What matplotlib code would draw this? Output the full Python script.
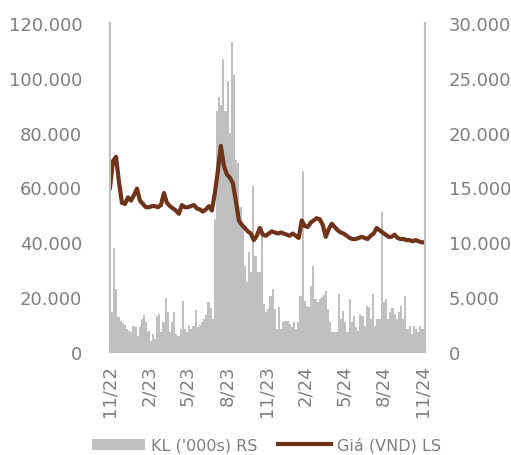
import pandas as pd
import matplotlib
matplotlib.use("Agg")
import matplotlib.pyplot as plt
from matplotlib.ticker import FuncFormatter

# Khối lượng giao dịch ('000s), mỗi điểm ~5 ngày
vol = [14.7, 14.7, 38, 23, 12.8, 11.4, 10.5, 9.9, 8.4, 7.8,
       7.3, 9.6, 9.1, 6, 9, 12, 13.5, 11, 7.8, 4,
       6.6, 4.7, 13, 13.9, 7.3, 11, 19.6, 14.7, 7.3, 11,
       14.7, 6.6, 6, 8.4, 18.5, 8.4, 7.3, 9.9, 8.4, 9.6,
       15.4, 9.1, 9.9, 11, 12, 13.5, 18.4, 16, 12, 48.5,
       88, 93, 90, 107, 88, 99, 80, 113, 101, 70,
       69, 53, 46, 31.5, 25.4, 36.4, 29, 60.7, 35, 29,
       29, 46, 17.5, 14.5, 15.7, 20.5, 23, 15.7, 8.4, 16.3,
       8.4, 10.8, 11.4, 11.4, 10.2, 9, 11, 8.4, 10.8, 20.5,
       66, 18.7, 16.9, 16.3, 24.2, 31.5, 19.3, 18.1, 19.3, 20,
       20.8, 22.4, 15.7, 10.8, 7.2, 7.2, 7.3, 21, 12, 15,
       10.8, 7.2, 19.3, 10.8, 13.2, 9, 7.8, 13.9, 13.2, 9.6,
       16.9, 16.3, 12, 21, 9.6, 12, 12, 51, 18.1, 19.3,
       12, 14.5, 16, 13.9, 12, 14.5, 16.9, 12, 20.3, 8.4,
       9.6, 6.6, 9.6, 8.4, 7.2, 9.6, 8.4, 8.4]
vol = [v * 1000 for v in vol]
vol_dates = pd.date_range("2022-11-01", periods=len(vol), freq="5D")

# Giá (VND), theo tuần
price = [15.0, 17.4, 17.8, 15.5, 13.6, 13.5, 14.1, 13.8, 14.3, 14.9,
         13.8, 13.5, 13.2, 13.2, 13.3, 13.3, 13.2, 13.4, 14.5, 13.6,
         13.3, 13.1, 12.9, 12.6, 13.4, 13.2, 13.2, 13.3, 13.4, 13.1,
         13.0, 12.8, 13.0, 13.3, 12.9, 14.5, 16.5, 18.8, 17.0, 16.2,
         15.9, 15.4, 13.8, 12.0, 11.6, 11.3, 11.0, 10.8, 10.2, 10.6,
         11.3, 10.7, 10.6, 10.8, 11.0, 10.9, 10.8, 10.9, 10.8, 10.7,
         10.6, 10.8, 10.6, 10.4, 12.0, 11.5, 11.4, 11.8, 12.0, 12.2,
         12.1, 11.6, 10.5, 11.2, 11.7, 11.4, 11.1, 10.9, 10.8, 10.6,
         10.4, 10.3, 10.3, 10.4, 10.5, 10.4, 10.3, 10.6, 10.8, 11.3,
         11.1, 10.9, 10.7, 10.5, 10.5, 10.7, 10.4, 10.3, 10.3, 10.2,
         10.2, 10.1, 10.2, 10.1, 10.0, 10.0]
price = [p * 1000 for p in price]
price_dates = pd.date_range("2022-11-01", periods=len(price), freq="7D")

tick_dates = pd.to_datetime(["2022-11-01", "2023-02-01", "2023-05-01", "2023-08-01",
                             "2023-11-01", "2024-02-01", "2024-05-01", "2024-08-01",
                             "2024-11-01"])
tick_labels = ["11/22", "2/23", "5/23", "8/23", "11/23", "2/24", "5/24", "8/24", "11/24"]

gray_txt = "#7f7f7f"
bar_col = "#bfbfbf"
line_col = "#6e3319"

plt.rcParams["font.family"] = "DejaVu Sans"

fig = plt.figure(figsize=(5.11, 4.56), dpi=100)
ax = fig.add_axes([110 / 511, 1 - 353 / 456, 315 / 511, 329 / 456])
ax.set_facecolor("none")

bars = ax.bar(vol_dates, vol, width=5, color=bar_col, linewidth=0, label="KL ('000s) RS")
ax.set_ylim(0, 120000)
ax.set_yticks(range(0, 120001, 20000))
fmt = FuncFormatter(lambda v, p: f"{v:,.0f}".replace(",", "."))
ax.yaxis.set_major_formatter(fmt)
ax.set_xlim(pd.Timestamp("2022-11-01"), pd.Timestamp("2024-11-06"))
ax.set_xticks(tick_dates)
ax.set_xticklabels(tick_labels, rotation=90)

ax2 = ax.twinx()
line, = ax2.plot(price_dates, price, color=line_col, linewidth=3.0, label="Giá (VND) LS")
ax2.set_ylim(0, 30000)
ax2.set_yticks(range(0, 30001, 5000))
ax2.yaxis.set_major_formatter(fmt)

for a in (ax, ax2):
    a.spines["top"].set_visible(False)
    for s in ("left", "right", "bottom"):
        a.spines[s].set_color(bar_col)
        a.spines[s].set_linewidth(1.5)
    a.tick_params(length=0, labelsize=13, labelcolor=gray_txt)
ax.tick_params(axis="y", pad=20)
ax.tick_params(axis="x", pad=9)
ax2.tick_params(axis="y", pad=17)

fig.legend([bars, line], ["KL ('000s) RS", "Giá (VND) LS"], loc="center",
           bbox_to_anchor=(0.522, 1 - 446 / 456), ncol=2, frameon=False,
           fontsize=11.5, labelcolor=gray_txt, handlelength=3.3, handletextpad=0.4,
           columnspacing=1.3, borderpad=0.2)

fig.savefig("out.png", dpi=100)
